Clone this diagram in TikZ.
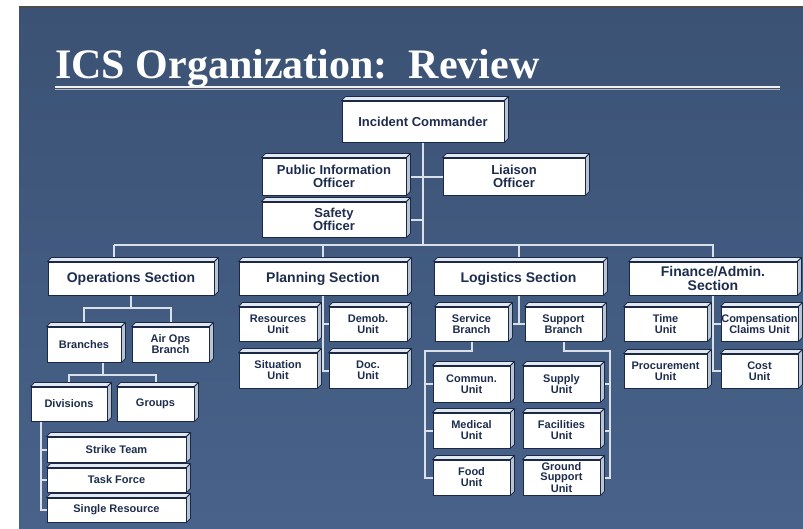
\documentclass[tikz,border=0pt]{standalone}
\usepackage{fontspec}
\setmainfont{Liberation Serif}
\newfontfamily\boxfont{Liberation Sans}
\usepackage{tikz}
\usetikzlibrary{calc}

\definecolor{bgTop}{RGB}{59,82,116}
\definecolor{bgBottom}{RGB}{72,98,138}
\definecolor{boxEdge}{RGB}{27,40,70}
\definecolor{boxText}{RGB}{30,45,78}
\definecolor{topFace}{RGB}{226,232,240}
\definecolor{sideFace}{RGB}{186,197,212}
\definecolor{wireGray}{RGB}{218,224,232}

\pgfdeclarelayer{backdrop}
\pgfdeclarelayer{wires}
\pgfsetlayers{backdrop,wires,main}

\begin{document}
\begin{tikzpicture}[
  x=1pt, y=-1pt,
  icsBox/.style={draw=boxEdge, line width=0.9pt, fill=white, text=boxText,
                 align=center, inner sep=0pt},
  boxSize/.style 2 args={minimum width=#1pt, minimum height=#2pt},
  staffBox/.style={icsBox, font=\boxfont\bfseries\fontsize{13}{13}\selectfont},
  sectionBox/.style={icsBox, boxSize={168}{33},
                     font=\boxfont\bfseries\fontsize{14}{14}\selectfont},
  unitBox/.style={icsBox, font=\boxfont\bfseries\fontsize{11}{11}\selectfont},
  wire/.style={draw=wireGray, line width=2pt},
  titleText/.style={text=white, font=\bfseries\fontsize{42}{42}\selectfont,
                    inner sep=0pt}
]
  \useasboundingbox (0,0) rectangle (803,528);

  % === Slide backdrop ===
  \begin{pgfonlayer}{backdrop}
    \fill[white] (0,0) rectangle (803,528);
    \shade[top color=bgTop, bottom color=bgBottom] (19,7) rectangle (803,528);
    \draw[line width=1.2pt, black!70] (19,7) -- (803,7);
  \end{pgfonlayer}

  \node[titleText, anchor=base west] (title) at (55,78)
    {ICS Organization:\ \ Review};
  \draw[line width=2.2pt, white!90!gray] (55,87) -- (780,87);
  \draw[line width=0.8pt, gray!60] (55,89.3) -- (780,89.3);

  % === Command staff ===
  \node[staffBox, boxSize={162}{41}] (ic) at (423,121.5) {Incident Commander};
  \node[staffBox, boxSize={144}{37}] (pio) at (334,176.5)
    {Public Information\\Officer};
  \node[staffBox, boxSize={142}{37}] (liaison) at (514,176.5)
    {Liaison\\Officer};
  \node[staffBox, boxSize={144}{35}] (safety) at (334,219.5)
    {Safety\\Officer};

  % === General staff ===
  \node[sectionBox, boxSize={166}{33}] (ops) at (131,278.5)
    {Operations Section};
  \node[sectionBox] (planning) at (323,278.5) {Planning Section};
  \node[sectionBox, boxSize={169}{33}] (logistics) at (518.5,278.5)
    {Logistics Section};
  \node[sectionBox] (finance) at (713,278.5) {Finance/Admin.\\Section};

  % === Operations ===
  \node[unitBox, boxSize={74}{35}] (branches) at (84,344.5) {Branches};
  \node[unitBox, boxSize={77}{35}] (airops) at (170.5,344.5) {Air Ops\\Branch};
  \node[unitBox, boxSize={76}{34}] (divisions) at (69,404) {Divisions};
  \node[unitBox, boxSize={77}{34}] (groups) at (155.5,404) {Groups};
  \node[unitBox, boxSize={139}{25}] (strike) at (116.5,449.5) {Strike Team};
  \node[unitBox, boxSize={139}{24}] (taskforce) at (116.5,480) {Task Force};
  \node[unitBox, boxSize={139}{24}] (single) at (116.5,510) {Single Resource};

  % === Planning ===
  \node[unitBox, boxSize={78}{34}] (resources) at (278,324) {Resources\\Unit};
  \node[unitBox, boxSize={78}{34}] (demob) at (368,324) {Demob.\\Unit};
  \node[unitBox, boxSize={78}{35}] (situation) at (278,370.5) {Situation\\Unit};
  \node[unitBox, boxSize={78}{35}] (doc) at (368,370.5) {Doc.\\Unit};

  % === Logistics ===
  \node[unitBox, boxSize={73}{34}] (service) at (471.5,324) {Service\\Branch};
  \node[unitBox, boxSize={77}{34}] (support) at (563.5,324) {Support\\Branch};
  \node[unitBox, boxSize={77}{36}] (commun) at (471.5,384) {Commun.\\Unit};
  \node[unitBox, boxSize={77}{36}] (supply) at (561.5,384) {Supply\\Unit};
  \node[unitBox, boxSize={77}{35}] (medical) at (471.5,430.5) {Medical\\Unit};
  \node[unitBox, boxSize={77}{35}] (facilities) at (561.5,430.5)
    {Facilities\\Unit};
  \node[unitBox, boxSize={77}{35}] (food) at (471.5,477.5) {Food\\Unit};
  \node[unitBox, boxSize={77}{35}, font=\boxfont\bfseries\fontsize{11}{10}\selectfont]
    (ground) at (561.5,477.5) {Ground\\Support\\Unit};

  % === Finance/Admin ===
  \node[unitBox, boxSize={83}{34}] (time) at (665.5,324) {Time\\Unit};
  \node[unitBox, boxSize={77}{34}] (comp) at (759.5,324)
    {Compensation\\Claims Unit};
  \node[unitBox, boxSize={83}{34}] (procurement) at (665.5,371)
    {Procurement\\Unit};
  \node[unitBox, boxSize={77}{34}] (cost) at (759.5,371) {Cost\\Unit};

  % top and right faces of every box
  \foreach \n in {ic,pio,liaison,safety,ops,planning,logistics,finance,
                  branches,airops,divisions,groups,strike,taskforce,single,
                  resources,demob,situation,doc,service,support,commun,supply,
                  medical,facilities,food,ground,time,comp,procurement,cost} {
    \filldraw[fill=topFace, draw=boxEdge, line width=0.8pt, line join=round]
      (\n.north west) -- ++(4,-4) -- ($(\n.north east)+(4,-4)$)
      -- (\n.north east) -- cycle;
    \filldraw[fill=sideFace, draw=boxEdge, line width=0.8pt, line join=round]
      (\n.north east) -- ++(4,-4) -- ($(\n.south east)+(4,-4)$)
      -- (\n.south east) -- cycle;
  }

  % === Connectors ===
  \coordinate (busL) at (114,245);
  \coordinate (opsJ) at (131,308);
  \coordinate (brJ) at (103,375);
  \coordinate (divJ) at (41,421);
  \coordinate (svcJ) at (425,351);
  \coordinate (supJ) at (610,351);
  \begin{pgfonlayer}{wires}
    \draw[wire] (ic.south) -- (ic.south |- busL);
    \draw[wire] (pio.east) -- (liaison.west);
    \draw[wire] (safety.east) -- (safety.east -| ic.south);
    \draw[wire] (finance.north) |- (busL);
    \draw[wire] (busL) -- (busL |- ops.north);
    \draw[wire] (planning.north) -- (planning.north |- busL);
    \draw[wire] (logistics.north) -- (logistics.north |- busL);
    % operations
    \draw[wire] (ops.south) -- (opsJ);
    \draw[wire] (branches.north) |- (opsJ) -| (airops.north);
    \draw[wire] (brJ |- branches.south) -- (brJ);
    \draw[wire] (divisions.north) |- (brJ) -| (groups.north);
    \draw[wire] (divJ) |- (single.west);
    \draw[wire] (strike.west) -- (strike.west -| divJ);
    \draw[wire] (taskforce.west) -- (taskforce.west -| divJ);
    % planning
    \draw[wire] (planning.south) -- (planning.south |- situation.east);
    \draw[wire] (resources.east) -- (demob.west);
    \draw[wire] (situation.east) -- (doc.west);
    % logistics
    \draw[wire] (logistics.south) -- (logistics.south |- service.east);
    \draw[wire] (service.east) -- (support.west);
    \draw[wire] (service.south) |- (svcJ) |- (food.west);
    \draw[wire] (commun.west) -- (commun.west -| svcJ);
    \draw[wire] (medical.west) -- (medical.west -| svcJ);
    \draw[wire] (support.south) |- (supJ) |- (ground.east);
    \draw[wire] (supply.east) -- (supply.east -| supJ);
    \draw[wire] (facilities.east) -- (facilities.east -| supJ);
    % finance/admin
    \draw[wire] (finance.south) -- (finance.south |- procurement.east);
    \draw[wire] (time.east) -- (comp.west);
    \draw[wire] (procurement.east) -- (cost.west);
  \end{pgfonlayer}
\end{tikzpicture}
\end{document}
